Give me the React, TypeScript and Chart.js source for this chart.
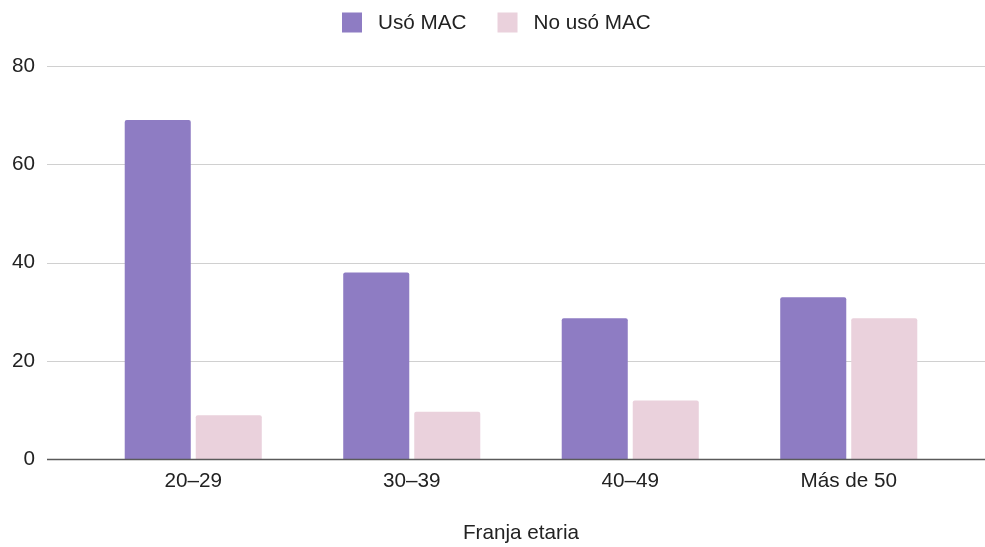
import React, { useEffect, useRef } from "react";
import { Chart, registerables } from "chart.js";

Chart.register(...registerables);

const categories = ["20–29", "30–39", "40–49", "Más de 50"];
const usoMac = [69, 38, 28.7, 33];
const noUsoMac = [9, 9.7, 12, 28.7];
const seriesLabels = ["Usó MAC", "No usó MAC"];
const seriesColors = ["#8e7cc3", "#ead1dc"];
const yTicks = [0, 20, 40, 60, 80];
const xTitle = "Franja etaria";

const FONT = "'Liberation Sans', Arial, sans-serif";
const FONT_SIZE = 20.7;
const TEXT = "#222222";

// Horizontal grid lines and baseline spanning the full width, plus a centered legend.
const decorPlugin = {
  id: "decor",
  beforeDatasetsDraw(chart: any) {
    const { ctx, scales } = chart;
    const y = scales.y;
    const left = 47;
    const right = chart.width;
    ctx.save();
    yTicks.forEach((v) => {
      if (v === 0) return;
      const py = Math.round(y.getPixelForValue(v)) + 0.5;
      ctx.strokeStyle = "#d0d0d0";
      ctx.lineWidth = 1;
      ctx.beginPath();
      ctx.moveTo(left, py);
      ctx.lineTo(right, py);
      ctx.stroke();
    });
    ctx.restore();
  },
  afterDatasetsDraw(chart: any) {
    const { ctx, scales } = chart;
    const y = scales.y;
    const py = y.getPixelForValue(0);
    ctx.save();
    ctx.strokeStyle = "#5a5a5a";
    ctx.lineWidth = 1.6;
    ctx.beginPath();
    ctx.moveTo(47, py);
    ctx.lineTo(chart.width, py);
    ctx.stroke();

    // legend
    ctx.font = `${FONT_SIZE}px ${FONT}`;
    ctx.textBaseline = "middle";
    ctx.textAlign = "left";
    const box = 20;
    const boxGap = 16;
    const itemGap = 31;
    let x = 342;
    const cy = 22.5;
    seriesLabels.forEach((l, i) => {
      ctx.fillStyle = seriesColors[i];
      ctx.fillRect(x, cy - box / 2, box, box);
      ctx.fillStyle = TEXT;
      ctx.fillText(l, x + box + boxGap, cy + 1);
      x += box + boxGap + ctx.measureText(l).width + itemGap;
    });
    ctx.restore();
  },
};

export default function App() {
  const ref = useRef<HTMLCanvasElement | null>(null);

  useEffect(() => {
    document.body.style.margin = "0";
    const chart = new Chart(ref.current as HTMLCanvasElement, {
      type: "bar",
      data: {
        labels: categories,
        datasets: [
          {
            label: seriesLabels[0],
            data: usoMac,
            backgroundColor: seriesColors[0],
            borderRadius: 2,
            borderSkipped: "start",
          },
          {
            label: seriesLabels[1],
            data: noUsoMac,
            backgroundColor: seriesColors[1],
            borderRadius: 2,
            borderSkipped: "start",
          },
        ],
      },
      options: {
        animation: false,
        responsive: false,
        maintainAspectRatio: false,
        layout: { padding: { left: 0, right: 27, top: 66, bottom: 0 } },
        datasets: {
          bar: { categoryPercentage: 0.65, barPercentage: 0.93 },
        },
        plugins: {
          legend: { display: false },
          tooltip: { enabled: false },
        },
        scales: {
          x: {
            afterFit(scale: any) {
              scale.height = 87.5;
            },
            grid: { display: false, drawTicks: false },
            border: { display: false },
            ticks: { color: TEXT, font: { size: FONT_SIZE, family: FONT }, padding: 9 },
            title: {
              display: true,
              text: xTitle,
              color: TEXT,
              font: { size: FONT_SIZE, family: FONT },
              padding: { top: 0, bottom: 1.6 },
            },
          },
          y: {
            min: 0,
            max: 80,
            afterFit(scale: any) {
              scale.width = 84;
            },
            afterBuildTicks(scale: any) {
              scale.ticks = yTicks.map((v) => ({ value: v }));
            },
            grid: { display: false, drawTicks: false },
            border: { display: false },
            ticks: { color: TEXT, font: { size: FONT_SIZE, family: FONT }, padding: 49 },
          },
        },
      },
      plugins: [decorPlugin],
    });
    return () => chart.destroy();
  }, []);

  return (
    <div style={{ position: "absolute", left: 0, top: 0, width: 985, height: 547, background: "#fff" }}>
      <canvas ref={ref} width={985} height={547} />
    </div>
  );
}
